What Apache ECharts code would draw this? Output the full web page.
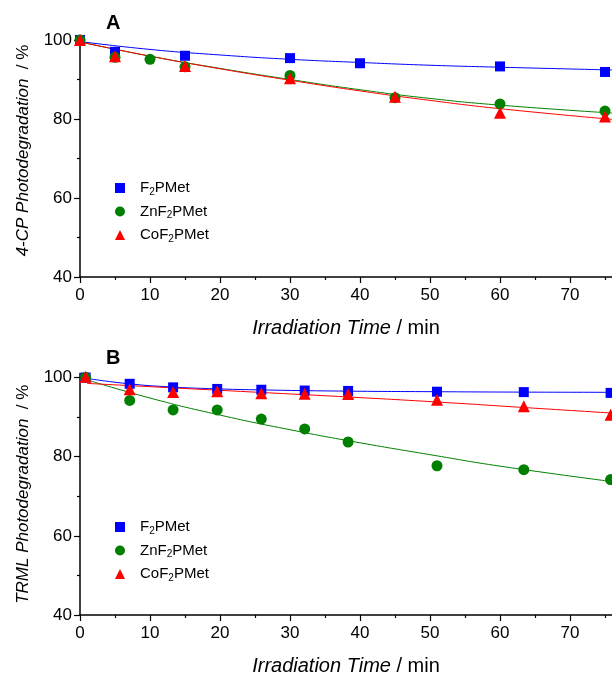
<!DOCTYPE html>
<html>
<head>
<meta charset="utf-8">
<script src="https://cdn.jsdelivr.net/npm/echarts@6/dist/echarts.min.js"></script>
<style>
html,body{margin:0;padding:0;background:#fff;}
#chart{width:612px;height:677px;}
</style>
</head>
<body>
<div id="chart"></div>
<script>
// ---------- Data ----------
var seriesNames = ['F2PMet', 'ZnF2PMet', 'CoF2PMet'];
var xMajorTicks = [0, 10, 20, 30, 40, 50, 60, 70];
var xMinorTicks = [5, 15, 25, 35, 45, 55, 65, 75];
var yMajorTicks = [40, 60, 80, 100];
var yMinorTicks = [50, 70, 90];

// Panel A: 4-CP
var aF2PMetX = [0, 5, 15, 30, 40, 60, 75];
var aF2PMetY = [100, 97.0, 96.0, 95.4, 94.1, 93.3, 91.9];
var aZnF2PMetX = [0, 5, 10, 15, 30, 45, 60, 75];
var aZnF2PMetY = [100, 95.6, 95.1, 93.2, 91.0, 85.4, 83.8, 82.0];
var aCoF2PMetX = [0, 5, 15, 30, 45, 60, 75];
var aCoF2PMetY = [100, 95.9, 93.4, 90.3, 85.6, 81.6, 80.6];
// fitted curves
var aF2PMetFitX = [0, 10, 20, 30, 40, 50, 60, 76];
var aF2PMetFitY = [99.6, 97.6, 96.2, 95.1, 94.3, 93.6, 93.1, 92.4];
var aZnF2PMetFitX = [0, 10, 20, 30, 40, 50, 60, 76];
var aZnF2PMetFitY = [99.5, 95.9, 92.8, 90.0, 87.4, 85.2, 83.5, 81.5];
var aCoF2PMetFitX = [0, 10, 20, 30, 40, 50, 60, 76];
var aCoF2PMetFitY = [99.5, 95.9, 92.7, 89.8, 87.1, 84.7, 82.6, 79.9];

// Panel B: TRML
var bTimes = [0.8, 7.1, 13.3, 19.6, 25.9, 32.1, 38.3, 51.0, 63.4, 75.8];
var bF2PMetY = [100, 98.4, 97.5, 97.1, 96.9, 96.7, 96.6, 96.4, 96.3, 96.1];
var bZnF2PMetY = [100, 94.2, 91.8, 91.8, 89.5, 87.0, 83.7, 77.7, 76.7, 74.2];
var bCoF2PMetY = [100.2, 97.0, 96.3, 96.5, 96.0, 95.9, 95.8, 94.4, 92.7, 90.6];
var bF2PMetFitX = [0.8, 7, 13, 20, 26, 38, 51, 63, 76];
var bF2PMetFitY = [99.8, 98.4, 97.6, 97.1, 96.85, 96.55, 96.4, 96.3, 96.25];
var bZnF2PMetFitX = [1, 10, 20, 30, 40, 50, 60, 76];
var bZnF2PMetFitY = [99.4, 94.8, 90.5, 86.8, 83.5, 80.5, 77.6, 73.7];
var bCoF2PMetFitX = [1, 13, 26, 38, 51, 63.5, 76];
var bCoF2PMetFitY = [98.5, 97.4, 96.2, 95.1, 93.8, 92.4, 91.0];

// ---------- Styling ----------
var FONT = '"Liberation Sans", Arial, sans-serif';
var colors = {F2PMet: '#0000ff', ZnF2PMet: '#008000', CoF2PMet: '#ff0000'};
var symbols = {F2PMet: 'rect', ZnF2PMet: 'circle', CoF2PMet: 'triangle'};
var symSizes = {F2PMet: 10, ZnF2PMet: 11, CoF2PMet: 12};

function zip(xs, ys) { return xs.map(function (x, i) { return [x, ys[i]]; }); }

function xAxesFor(grid) {
  return [
    {
      type: 'value', gridIndex: grid, position: 'bottom', min: 0, max: 76,
      axisLine: {show: true, onZero: false, lineStyle: {color: '#000', width: 1.5}},
      axisTick: {show: true, inside: false, length: 6, customValues: xMajorTicks, lineStyle: {color: '#000', width: 1.2}},
      axisLabel: {show: true, customValues: xMajorTicks, margin: 10, color: '#000', fontSize: 17, fontFamily: FONT},
      splitLine: {show: false},
      name: '{i|Irradiation Time}{n| / min}',
      nameLocation: 'middle', nameGap: 39,
      nameTextStyle: {
        color: '#000', fontFamily: FONT, fontSize: 20,
        rich: {
          i: {fontStyle: 'italic', fontSize: 20, fontFamily: FONT, color: '#000', lineHeight: 24},
          n: {fontSize: 20, fontFamily: FONT, color: '#000', lineHeight: 24}
        }
      }
    },
    {
      type: 'value', gridIndex: grid, position: 'bottom', min: 0, max: 76,
      axisLine: {show: false},
      axisTick: {show: true, inside: false, length: 3, customValues: xMinorTicks, lineStyle: {color: '#000', width: 1.2}},
      axisLabel: {show: false},
      splitLine: {show: false}
    }
  ];
}

function yAxesFor(grid, title, shift) {
  return [
    {
      type: 'value', gridIndex: grid, position: 'left', min: 40, max: 101,
      axisLine: {show: true, onZero: false, lineStyle: {color: '#000', width: 1.5}},
      axisTick: {show: true, inside: false, length: 6, customValues: yMajorTicks, lineStyle: {color: '#000', width: 1.2}},
      axisLabel: {show: true, customValues: yMajorTicks, margin: 8, color: '#000', fontSize: 17, fontFamily: FONT},
      splitLine: {show: false},
      name: '{i|' + title + '}{n|  / %}',
      nameLocation: 'middle', nameGap: 47, nameRotate: 90,
      nameTextStyle: {
        color: '#000', fontFamily: FONT, fontSize: 17,
        padding: [0, 0, 0, shift],
        rich: {
          i: {fontStyle: 'italic', fontSize: 17, fontFamily: FONT, color: '#000', lineHeight: 20},
          n: {fontSize: 17, fontFamily: FONT, color: '#000', lineHeight: 20}
        }
      }
    },
    {
      type: 'value', gridIndex: grid, position: 'left', min: 40, max: 101,
      axisLine: {show: false},
      axisTick: {show: true, inside: false, length: 3, customValues: yMinorTicks, lineStyle: {color: '#000', width: 1.2}},
      axisLabel: {show: false},
      splitLine: {show: false}
    }
  ];
}

function scatter(name, xi, yi, data) {
  return {
    type: 'scatter', name: name, xAxisIndex: xi, yAxisIndex: yi,
    symbol: symbols[name], symbolSize: symSizes[name],
    itemStyle: {color: colors[name], opacity: 1},
    data: data, z: 3
  };
}
function fit(name, xi, yi, data) {
  return {
    type: 'line', name: name + ' fit', xAxisIndex: xi, yAxisIndex: yi,
    showSymbol: false, symbol: 'none', smooth: 0.5,
    lineStyle: {color: colors[name], width: 1}, itemStyle: {color: colors[name]},
    data: data, z: 2, silent: true
  };
}

function legendFor(top) {
  return {
    orient: 'vertical', left: 110, top: top,
    itemWidth: 10, itemHeight: 10, itemGap: 5.5,
    selectedMode: false,
    data: seriesNames.map(function (n) { return {name: n, icon: symbols[n]}; }),
    formatter: function (name) {
      var parts = name.split('2');
      return '{p|}{a|' + parts[0] + '}{s|2}{a|' + parts[1] + '}';
    },
    textStyle: {
      color: '#000', fontFamily: FONT, fontSize: 15,
      rich: {
        p: {width: 10, height: 18, lineHeight: 18},
        a: {fontSize: 15, fontFamily: FONT, color: '#000', lineHeight: 18},
        s: {fontSize: 10, fontFamily: FONT, color: '#000', lineHeight: 10, verticalAlign: 'bottom'}
      }
    }
  };
}

var chart = echarts.init(document.getElementById('chart'), null, {renderer: 'canvas'});
var option = {
  backgroundColor: '#ffffff',
  animation: false,
  grid: [
    {left: 80, right: 0, top: 36, height: 241},
    {left: 80, right: 0, top: 373.5, height: 241.5}
  ],
  xAxis: xAxesFor(0).concat(xAxesFor(1)),
  yAxis: yAxesFor(0, '4-CP Photodegradation', 12).concat(yAxesFor(1, 'TRML Photodegradation', 0)),
  legend: [legendFor(174), legendFor(513)],
  graphic: [
    {type: 'text', left: 106, top: 13, style: {text: 'A', font: 'bold 20px ' + FONT, fill: '#000'}},
    {type: 'text', left: 106, top: 348, style: {text: 'B', font: 'bold 20px ' + FONT, fill: '#000'}}
  ],
  series: [
    fit('F2PMet', 0, 0, zip(aF2PMetFitX, aF2PMetFitY)),
    fit('ZnF2PMet', 0, 0, zip(aZnF2PMetFitX, aZnF2PMetFitY)),
    fit('CoF2PMet', 0, 0, zip(aCoF2PMetFitX, aCoF2PMetFitY)),
    scatter('F2PMet', 0, 0, zip(aF2PMetX, aF2PMetY)),
    scatter('ZnF2PMet', 0, 0, zip(aZnF2PMetX, aZnF2PMetY)),
    scatter('CoF2PMet', 0, 0, zip(aCoF2PMetX, aCoF2PMetY)),

    fit('F2PMet', 2, 2, zip(bF2PMetFitX, bF2PMetFitY)),
    fit('ZnF2PMet', 2, 2, zip(bZnF2PMetFitX, bZnF2PMetFitY)),
    fit('CoF2PMet', 2, 2, zip(bCoF2PMetFitX, bCoF2PMetFitY)),
    scatter('F2PMet', 2, 2, zip(bTimes, bF2PMetY)),
    scatter('ZnF2PMet', 2, 2, zip(bTimes, bZnF2PMetY)),
    scatter('CoF2PMet', 2, 2, zip(bTimes, bCoF2PMetY))
  ]
};
chart.setOption(option);
</script>
</body>
</html>
